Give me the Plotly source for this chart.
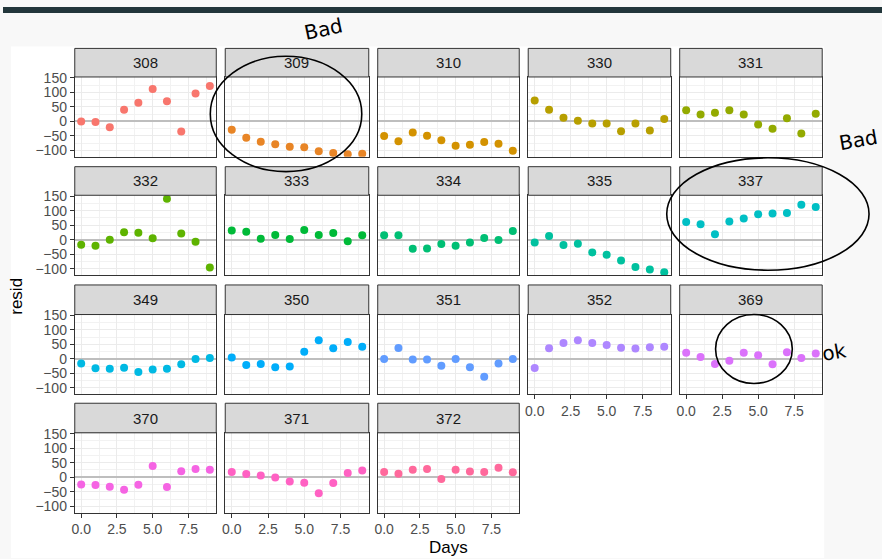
import plotly.graph_objects as go

W, H = 882, 559

subjects = ["308", "309", "310", "330", "331", "332", "333", "334", "335", "337",
            "349", "350", "351", "352", "369", "370", "371", "372"]
days = [0, 1, 2, 3, 4, 5, 6, 7, 8, 9]

r308 = [0, -2, -20, 40, 64, 112, 69, -35, 96, 122]
r309 = [-29, -56, -70, -79, -87, -89, -103, -109, -113, -111]
r310 = [-50, -68, -38, -49, -65, -84, -80, -71, -77, -101]
r330 = [72, 40, 13, 2, -7, -7, -34, -7, -31, 8]
r331 = [38, 24, 30, 38, 24, -11, -25, 11, -42, 26]
r332 = [-17, -21, 0, 26, 24, 5, 141, 21, -7, -96]
r333 = [32, 27, 3, 16, 2, 33, 16, 23, -5, 15]
r334 = [15, 15, -31, -30, -15, -21, -10, 6, -1, 30]
r335 = [-10, 13, -18, -14, -44, -52, -72, -94, -103, -112]
r337 = [61, 53, 19, 63, 73, 88, 90, 92, 120, 113]
r349 = [-16, -32, -34, -30, -45, -36, -34, -18, 0, 3]
r350 = [5, -21, -17, -29, -26, 25, 64, 37, 58, 42]
r351 = [0, 38, -2, -2, -23, 0, -29, -61, -16, 0]
r352 = [-31, 37, 55, 64, 55, 48, 39, 36, 40, 42]
r369 = [21, 7, -17, -6, 21, 13, -18, 23, 3, 19]
r370 = [-25, -27, -33, -43, -26, 39, -34, 21, 28, 26]
r371 = [18, 11, 6, -1, -15, -19, -55, -20, 15, 23]
r372 = [18, 12, 26, 28, -6, 26, 20, 18, 33, 17]

resid = [r308, r309, r310, r330, r331, r332, r333, r334, r335, r337,
         r349, r350, r351, r352, r369, r370, r371, r372]

colors = ["#F8766D", "#E88526", "#D39200", "#B79F00", "#93AA00", "#5EB300",
          "#00BA38", "#00BF74", "#00C19F", "#00BFC4", "#00B9E3", "#00ADFA",
          "#619CFF", "#AE87FF", "#DB72FB", "#F564E3", "#FF61C3", "#FF699C"]

y_ticks = [-100, -50, 0, 50, 100, 150]
y_ticklabels = ["\u2212100", "\u221250", "0", "50", "100", "150"]
x_ticks = [0, 2.5, 5, 7.5]
x_ticklabels = ["0.0", "2.5", "5.0", "7.5"]

# pixel geometry
col_x = [(72, 214), (223, 367), (376, 518), (527, 670), (679, 822)]
row_strip = [(42, 71), (162, 191), (282, 312), (402, 432)]
row_panel = [(71, 152), (191, 272), (312, 393), (432, 513)]

def px(x):
    return x / W

def py(y):
    return 1 - y / H

FONT = "Liberation Sans, Arial, Helvetica, sans-serif"

fig = go.Figure()
shapes = []
annotations = []

# backgrounds
shapes.append(dict(type="rect", xref="paper", yref="paper", x0=0, x1=1,
                   y0=py(6), y1=1, fillcolor="#22363b", line_width=0, layer="below"))
shapes.append(dict(type="rect", xref="paper", yref="paper", x0=px(8), x1=px(824),
                   y0=0, y1=py(40), fillcolor="white", line_width=0, layer="below"))

layout_axes = {}
for k, subj in enumerate(subjects):
    i = k + 1
    r, c = divmod(k, 5)
    x0, x1 = col_x[c]
    ya, yb = row_panel[r]
    sa, sb = row_strip[r]
    fig.add_trace(go.Scatter(
        x=days, y=resid[k], mode="markers",
        marker=dict(color=colors[k], size=8, line_width=0),
        xaxis=f"x{i}", yaxis=f"y{i}", showlegend=False,
        hovertemplate="Days=%{x}<br>resid=%{y}<extra>" + subj + "</extra>"))
    show_x = (r == 3) or (r == 2 and c >= 3)
    show_y = (c == 0)
    layout_axes[f"xaxis{i}"] = dict(
        domain=[px(x0), px(x1)], anchor=f"y{i}", range=[-0.45, 9.45],
        tickvals=x_ticks, ticktext=x_ticklabels, showticklabels=show_x,
        ticks="outside" if show_x else "", ticklen=4, tickcolor="#333333",
        tickfont=dict(family=FONT, size=14, color="#4d4d4d"),
        showgrid=True, gridcolor="#ebebeb", gridwidth=1.1,
        minor=dict(dtick=1.25, tick0=0, showgrid=True, gridcolor="#f2f2f2", gridwidth=0.6),
        zeroline=False, showline=True, mirror=True, linecolor="#333333", linewidth=1)
    layout_axes[f"yaxis{i}"] = dict(
        domain=[py(yb), py(ya)], anchor=f"x{i}", range=[-122, 153],
        tickvals=y_ticks, ticktext=y_ticklabels, showticklabels=show_y,
        ticks="outside" if show_y else "", ticklen=4, tickcolor="#333333",
        tickfont=dict(family=FONT, size=14, color="#4d4d4d"),
        showgrid=True, gridcolor="#ebebeb", gridwidth=1.1,
        minor=dict(dtick=25, tick0=-125, showgrid=True, gridcolor="#f2f2f2", gridwidth=0.6),
        zeroline=True, zerolinecolor="#bebebe", zerolinewidth=1.6,
        showline=True, mirror=True, linecolor="#333333", linewidth=1)
    # strip
    shapes.append(dict(type="rect", xref="paper", yref="paper",
                       x0=px(x0), x1=px(x1), y0=py(sb), y1=py(sa),
                       fillcolor="#d9d9d9", line=dict(color="#333333", width=1)))
    annotations.append(dict(text=subj, xref="paper", yref="paper",
                            x=px((x0 + x1) / 2), y=py((sa + sb) / 2),
                            showarrow=False, xanchor="center", yanchor="middle",
                            font=dict(family=FONT, size=15, color="#1a1a1a")))

# axis titles
annotations.append(dict(text="resid", xref="paper", yref="paper", x=px(14), y=py(293),
                        textangle=-90, showarrow=False, xanchor="center", yanchor="middle",
                        font=dict(family=FONT, size=17, color="black")))
annotations.append(dict(text="Days", xref="paper", yref="paper", x=px(447), y=py(548),
                        showarrow=False, xanchor="center", yanchor="middle",
                        font=dict(family=FONT, size=17, color="black")))

# hand-drawn marks
ink = dict(color="black", width=1.6)
shapes.append(dict(type="circle", xref="paper", yref="paper", x0=px(208), x1=px(360),
                   y0=py(167), y1=py(50), line=ink))
shapes.append(dict(type="circle", xref="paper", yref="paper", x0=px(666), x1=px(869),
                   y0=py(267), y1=py(153), line=ink))
shapes.append(dict(type="circle", xref="paper", yref="paper", x0=px(715), x1=px(792),
                   y0=py(382), y1=py(312), line=ink))
for txt, x, y, ang in [("Bad", 322, 22, -12), ("Bad", 858, 135, -10), ("ok", 834, 350, -10)]:
    annotations.append(dict(text=txt, xref="paper", yref="paper", x=px(x), y=py(y),
                            showarrow=False, xanchor="center", yanchor="middle", textangle=ang,
                            font=dict(family="DejaVu Sans", size=20, color="black")))

fig.update_layout(width=W, height=H, margin=dict(l=0, r=0, t=0, b=0),
                  paper_bgcolor="#f8f8f8", plot_bgcolor="white",
                  shapes=shapes, annotations=annotations, showlegend=False,
                  **layout_axes)

fig.write_html("out.html")
